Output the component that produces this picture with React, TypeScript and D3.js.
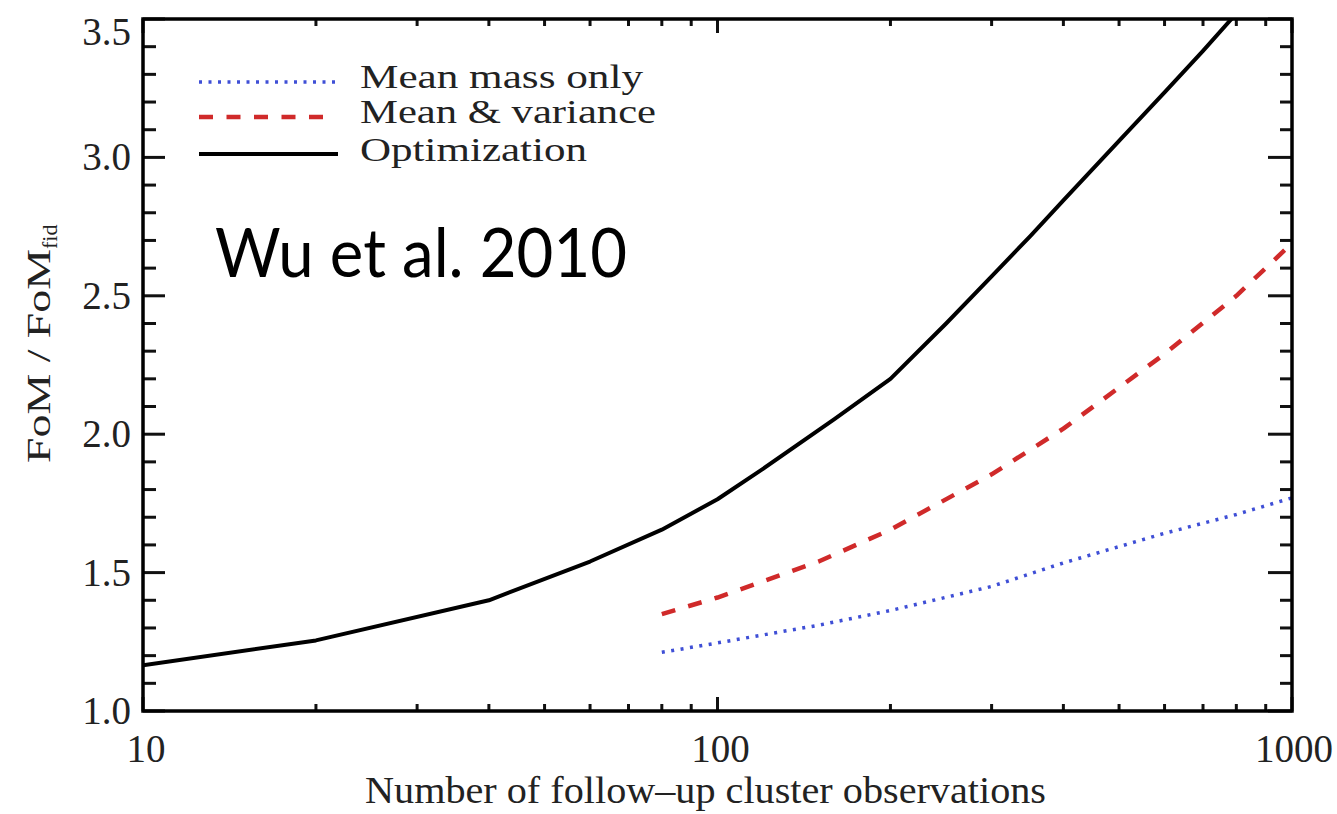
import React from "react";
import * as d3 from "d3";

const optX = [10, 20, 40, 60, 80, 100, 120, 160, 200, 250, 300, 350, 400, 500, 600, 700, 800];
const optY = [1.165, 1.255, 1.4, 1.54, 1.655, 1.765, 1.875, 2.055, 2.2, 2.4, 2.57, 2.715, 2.845, 3.06, 3.235, 3.385, 3.52];
const mvX = [80, 100, 150, 200, 300, 400, 600, 800, 1000];
const mvY = [1.35, 1.41, 1.54, 1.655, 1.855, 2.02, 2.29, 2.5, 2.69];
const mmX = [80, 100, 150, 200, 300, 400, 600, 800, 1000];
const mmY = [1.212, 1.246, 1.31, 1.363, 1.45, 1.535, 1.642, 1.71, 1.77];
const xTicks = [10, 100, 1000];
const yTicks = [1.0, 1.5, 2.0, 2.5, 3.0, 3.5];
const legendLabels = ["Mean mass only", "Mean & variance", "Optimization"];

const W = 1337, H = 814;
const L = 143, R = 1292, T = 19, B = 711;

export default function App() {
  const x = d3.scaleLog().domain([10, 1000]).range([L, R]);
  const y = d3.scaleLinear().domain([1.0, 3.5]).range([B, T]);
  const mk = (xs: number[], ys: number[]) =>
    d3.line<number>().x((_, i) => x(xs[i])).y((v) => y(v))(ys) as string;

  const minorX: number[] = [];
  for (const dec of [10, 100]) for (let k = 2; k <= 9; k++) minorX.push(dec * k);
  const minorY: number[] = [];
  for (let v = 1.1; v < 3.5; v += 0.1) if (Math.abs(v * 2 - Math.round(v * 2)) > 0.01) minorY.push(+v.toFixed(2));

  const serif = "Liberation Serif, Times New Roman, Times, serif";
  const tickColor = "#111";
  const series = [
    { xs: mmX, ys: mmY, color: "#3f4fd6", dash: "3,6.5", w: 3.5 },
    { xs: mvX, ys: mvY, color: "#d02a2a", dash: "14,13.5", w: 4.5 },
    { xs: optX, ys: optY, color: "#000", dash: "", w: 4 },
  ];
  const legendY = [82, 117, 154];
  const legendW = [283, 296, 227];

  return (
    <svg width={W} height={H} style={{ position: "absolute", left: 0, top: 0, background: "#fff" }}>
      <defs>
        <clipPath id="plot">
          <rect x={L} y={T} width={R - L} height={B - T} />
        </clipPath>
      </defs>
      <rect x={0} y={0} width={W} height={H} fill="#fff" />
      <g clipPath="url(#plot)">
        {series.map((s, i) => (
          <path key={i} d={mk(s.xs, s.ys)} fill="none" stroke={s.color} strokeWidth={s.w}
            strokeDasharray={s.dash || undefined} strokeLinejoin="round" />
        ))}
      </g>
      <g stroke={tickColor} strokeWidth={3}>
        {xTicks.map((t) => (
          <g key={"xt" + t}>
            <line x1={x(t)} x2={x(t)} y1={B} y2={B - 14} />
            <line x1={x(t)} x2={x(t)} y1={T} y2={T + 14} />
          </g>
        ))}
        {minorX.map((t) => (
          <g key={"xm" + t}>
            <line x1={x(t)} x2={x(t)} y1={B} y2={B - 7} />
            <line x1={x(t)} x2={x(t)} y1={T} y2={T + 7} />
          </g>
        ))}
        {yTicks.map((t) => (
          <g key={"yt" + t}>
            <line x1={L} x2={L + 22} y1={y(t)} y2={y(t)} />
            <line x1={R} x2={R - 24} y1={y(t)} y2={y(t)} />
          </g>
        ))}
        {minorY.map((t) => (
          <g key={"ym" + t}>
            <line x1={L} x2={L + 13} y1={y(t)} y2={y(t)} />
            <line x1={R} x2={R - 12} y1={y(t)} y2={y(t)} />
          </g>
        ))}
      </g>
      <rect x={L} y={T} width={R - L} height={B - T} fill="none" stroke="#000" strokeWidth={3.5} />
      <g style={{ fontFamily: serif }} fontSize={39} fill="#222">
        {yTicks.map((t) => (
          <text key={"yl" + t} x={131} y={Math.max(y(t) + 13, 45)} textAnchor="end">
            {t.toFixed(1)}
          </text>
        ))}
        {xTicks.map((t) => (
          <text key={"xl" + t} x={t === 1000 ? x(t) + 2 : x(t) + 3} y={762} textAnchor="middle">
            {t}
          </text>
        ))}
      </g>
      <text x={365} y={803} style={{ fontFamily: serif }} fontSize={38} fill="#222" textLength={681} lengthAdjust="spacingAndGlyphs">
        Number of follow–up cluster observations
      </text>
      <text transform="translate(50,463) rotate(-90)" style={{ fontFamily: serif }} fontSize={34} fill="#222">
        <tspan textLength={214} lengthAdjust="spacingAndGlyphs">FoM / FoM</tspan>
        <tspan fontSize={22} dy={7}>fid</tspan>
      </text>
      {series.map((s, i) => (
        <g key={"lg" + i}>
          <line x1={199} x2={i === 1 ? 325 : 338} y1={legendY[i]} y2={legendY[i]} stroke={s.color}
            strokeWidth={s.w} strokeDasharray={s.dash || undefined} />
          <text x={360} y={legendY[i] + (i === 2 ? 7 : 6)} style={{ fontFamily: serif }} fontSize={33} fill="#222"
            textLength={legendW[i]} lengthAdjust="spacingAndGlyphs">
            {legendLabels[i]}
          </text>
        </g>
      ))}
      <text x={215} y={277} style={{ fontFamily: "Lato, Open Sans, sans-serif" }} fontSize={68} fill="#000"
        textLength={412} lengthAdjust="spacingAndGlyphs">
        Wu et al. 2010
      </text>
    </svg>
  );
}
